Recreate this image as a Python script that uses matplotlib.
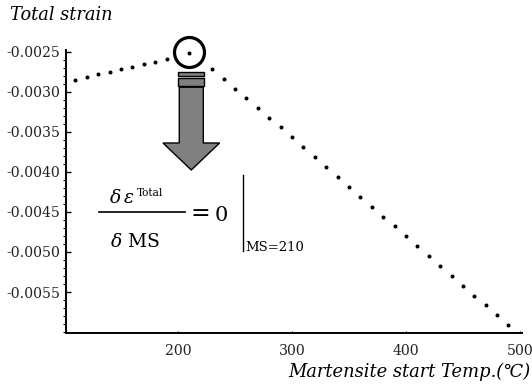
#-  Python 3 source code

#-  plot.py ~~
#
#   Total strain versus martensite start temperature, with the maximum near
#   MS = 210 marked by a circle, an arrow and the derivative condition.

import matplotlib
matplotlib.use("Agg")
import matplotlib.pyplot as pyplot
from matplotlib.patches import FancyArrow, Rectangle
from matplotlib.ticker import MultipleLocator

###

ms_temps = [110, 120, 130, 140, 150, 160, 170, 180, 190, 210,
            230, 240, 250, 260, 270, 280, 290, 300, 310, 320,
            330, 340, 350, 360, 370, 380, 390, 400, 410, 420,
            430, 440, 450, 460, 470, 480, 490]

total_strain = [-0.002850, -0.002813, -0.002775, -0.002746, -0.002713,
                -0.002684, -0.002650, -0.002621, -0.002588, -0.002516,
                -0.002719, -0.002838, -0.002963, -0.003075, -0.003204,
                -0.003329, -0.003441, -0.003566, -0.003691, -0.003816,
                -0.003934, -0.004059, -0.004184, -0.004309, -0.004434,
                -0.004559, -0.004671, -0.004800, -0.004925, -0.005046,
                -0.005175, -0.005300, -0.005425, -0.005550, -0.005663,
                -0.005788, -0.005913]

x_ticks = [200, 300, 400, 500]
y_ticks = [-0.0025, -0.0030, -0.0035, -0.0040, -0.0045, -0.0050, -0.0055]
y_tick_labels = ["-0.0025", "-0.0030", "-0.0035", "-0.0040",
                 "-0.0045", "-0.0050", "-0.0055"]

peak_ms = 210
peak_strain = -0.002516

###

def main():

    pyplot.rcParams["font.family"] = ["DejaVu Serif", "DejaVu Sans"]
    pyplot.rcParams["mathtext.fontset"] = "dejavuserif"

    fig = pyplot.figure(figsize=(5.32, 3.87), dpi=100)
    ax = fig.add_axes([0.124, 0.1395, 0.857, 0.7315])

    ax.plot(ms_temps, total_strain, linestyle="none", marker="o",
            markersize=1.9, color="black", zorder=3)

    ax.set_xlim(101.75, 501.75)
    ax.set_ylim(-0.0060125, -0.002475)

  # Mathematica-ish axes: only left and bottom, tiny inward ticks

    for side in ("top", "right"):
        ax.spines[side].set_visible(False)
    for side in ("left", "bottom"):
        ax.spines[side].set_linewidth(1.4)

    ax.set_xticks(x_ticks)
    ax.set_yticks(y_ticks)
    ax.set_yticklabels(y_tick_labels)
    ax.yaxis.set_minor_locator(MultipleLocator(0.0001))
    ax.tick_params(axis="both", direction="in", labelsize=10.1,
                   labelcolor="#222222")
    ax.tick_params(axis="y", which="major", length=3.5, width=1.0, pad=4)
    ax.tick_params(axis="y", which="minor", length=2.0, width=0.8)
    ax.tick_params(axis="x", which="major", length=1.5, width=0.8, pad=8)

  # Axis labels placed like the original (top-left and bottom-right)

    fig.text(0.019, 0.962, "Total strain", fontsize=12.8, style="italic",
             ha="left", va="center")
    fig.text(0.997, 0.039, "Martensite start Temp.(\u2103)", fontsize=12.9,
             style="italic", ha="right", va="center")

  # Ring around the maximum (a marker keeps it round)

    ax.plot([peak_ms - 0.5], [peak_strain + 0.00001], linestyle="none",
            marker="o", markersize=21.6, markerfacecolor="none",
            markeredgecolor="black", markeredgewidth=2.3, zorder=4,
            clip_on=False)

  # Arrow below the ring: two bars and a thick downward arrow

    grey = "#808080"
    ax.add_patch(Rectangle((200.3, -0.002796), 22.8, 0.000050,
                           facecolor=grey, edgecolor="black",
                           linewidth=1.0, zorder=4))
    ax.add_patch(Rectangle((200.3, -0.002921), 22.8, 0.000092,
                           facecolor=grey, edgecolor="black",
                           linewidth=1.0, zorder=4))
    ax.add_patch(FancyArrow(211.7, -0.002941, 0, -0.001034, width=21.1,
                            head_width=49.7, head_length=0.000337,
                            length_includes_head=True, facecolor=grey,
                            edgecolor="black", linewidth=1.0, zorder=4))

  # Derivative condition at the maximum

    ax.text(150.9, -0.004388, r"$\delta\,\varepsilon$", fontsize=13.5,
            ha="center", va="baseline")
    ax.text(164.0, -0.004296, "Total", fontsize=7.6, ha="left",
            va="baseline")
    ax.plot([130.7, 206.1], [-0.004504, -0.004504], color="black",
            linewidth=1.2)
    ax.text(162.0, -0.004934, r"$\delta$ MS", fontsize=13.5, ha="center",
            va="baseline")
    ax.text(220.0, -0.004513, "=", fontsize=17, ha="center", va="center")
    ax.text(238.3, -0.004613, "0", fontsize=15, ha="center",
            va="baseline")
    ax.plot([257.3, 257.3], [-0.004038, -0.004984], color="black",
            linewidth=1.0)
    ax.text(258.8, -0.004984, "MS=210", fontsize=9.5, ha="left",
            va="baseline")

    fig.savefig("out.png", dpi=100)

###

if __name__ == "__main__":
    main()

#-  vim:set syntax=python:
